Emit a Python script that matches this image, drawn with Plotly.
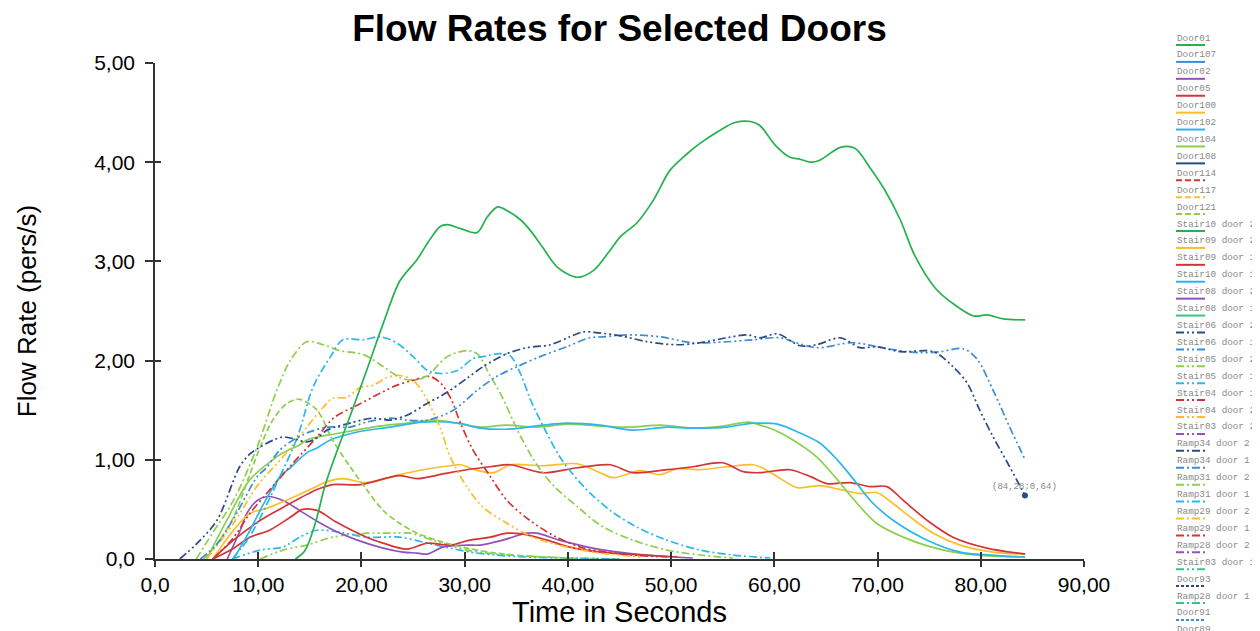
import plotly.graph_objects as go

# ---------------- data ----------------
legend_names = ["Door01", "Door107", "Door02", "Door05", "Door100", "Door102", "Door104", "Door108",
                "Door114", "Door117", "Door121", "Stair10 door 2", "Stair09 door 2", "Stair09 door 1",
                "Stair10 door 1", "Stair08 door 2", "Stair08 door 1", "Stair06 door 2", "Stair06 door 1",
                "Stair05 door 2", "Stair05 door 1", "Stair04 door 1", "Stair04 door 2", "Stair03 door 2",
                "Ramp34 door 2", "Ramp34 door 1", "Ramp31 door 2", "Ramp31 door 1", "Ramp29 door 2",
                "Ramp29 door 1", "Ramp28 door 2", "Stair03 door 1", "Door93", "Ramp28 door 1", "Door91", "Door89"]

GREEN, BLUE, PURPLE, RED, YELLOW = "#25b24e", "#3a8dd6", "#9450be", "#d33535", "#fdbd2a"
CYAN, LGREEN, NAVY, MINT = "#2ab8ec", "#8ccf4d", "#2c4a86", "#3cc47c"
legend_colors = [GREEN, BLUE, PURPLE, RED, YELLOW, CYAN, LGREEN, NAVY,
                 RED, YELLOW, LGREEN, GREEN, YELLOW, RED,
                 CYAN, PURPLE, MINT, NAVY, BLUE,
                 LGREEN, CYAN, RED, YELLOW, PURPLE,
                 NAVY, BLUE, LGREEN, CYAN, YELLOW,
                 RED, PURPLE, MINT, NAVY, MINT, BLUE, PURPLE]
SOLID = "solid"
DASH = "6px,3px"
DASHDOT = "8px,3px,2px,3px"
DDOT = "8px,3px,2px,3px,2px,3px"
DOT = "3px,2px"
legend_dashes = [SOLID] * 8 + [DASH] * 3 + [SOLID] * 6 + [DDOT] * 7 + [DASHDOT] * 7 + [DDOT, DOT, DASHDOT, DOT, DOT]

x_tickvals = [0, 10, 20, 30, 40, 50, 60, 70, 80, 90]
x_ticktext = ["0,0", "10,00", "20,00", "30,00", "40,00", "50,00", "60,00", "70,00", "80,00", "90,00"]
y_tickvals = [0, 1, 2, 3, 4, 5]
y_ticktext = ["0,0", "1,00", "2,00", "3,00", "4,00", "5,00"]

door01_x = [13.6, 14.5, 15.5, 16.5, 17.5, 19, 20.5, 22.2, 23.7, 25.4, 26.5, 27.6, 28.3, 29.6, 31.2, 32.2, 33.2,
            34.3, 35.4, 36.3, 37.5, 39, 40.9, 42.5, 44, 45.1, 46.7, 48.3, 49.9, 51.5, 52.8, 54.7, 56.2, 57.7,
            58.6, 60.1, 61.5, 62.5, 63.5, 64.4, 66.4, 67.8, 69.3, 70.7, 72.2, 73.6, 75.6, 77.5, 79.3, 80.6,
            82.2, 84.3]
door01_y = [0, 0.08, 0.35, 0.75, 1.05, 1.47, 1.9, 2.4, 2.8, 3.02, 3.2, 3.35, 3.37, 3.33, 3.29, 3.45, 3.55,
            3.5, 3.42, 3.32, 3.15, 2.94, 2.84, 2.91, 3.1, 3.25, 3.39, 3.62, 3.92, 4.08, 4.19, 4.32, 4.40, 4.41,
            4.37, 4.17, 4.05, 4.03, 4.0, 4.02, 4.15, 4.14, 3.94, 3.72, 3.42, 3.06, 2.73, 2.56, 2.45, 2.46,
            2.42, 2.41]

stair06d2_x = [2.4, 4, 6, 8.2, 9.2, 10.2, 11.5, 12.4, 13.5, 14.7, 15.7, 16.7, 18.9, 21.1, 22.8, 24.4, 26.4,
               28.3, 30.2, 31.8, 34.1, 36, 38.3, 40.2, 41.5, 42.9, 45.1, 47.7, 50.6, 52.8, 55.4, 57.4, 58.6,
               60.3, 62.5, 64.1, 66.4, 68.3, 69.9, 72.2, 75.4, 77.3, 78.7, 79.9, 81.2, 82.8, 84.28]
stair06d2_y = [0, 0.15, 0.39, 0.93, 1.06, 1.13, 1.2, 1.23, 1.21, 1.18, 1.22, 1.3, 1.37, 1.42, 1.4, 1.45, 1.57,
               1.68, 1.82, 1.94, 2.07, 2.13, 2.16, 2.24, 2.29, 2.28, 2.25, 2.19, 2.16, 2.18, 2.23, 2.26, 2.23,
               2.27, 2.15, 2.16, 2.23, 2.13, 2.14, 2.09, 2.09, 1.94, 1.77, 1.5, 1.23, 0.93, 0.64]

stair06d1_x = [4.4, 6, 7.9, 9.9, 10.8, 12.1, 13.4, 14.7, 16.7, 18.9, 20.5, 22.8, 24.4, 26.4, 28.9, 31.2, 33.1,
               35.1, 37.3, 39.9, 42.1, 43.5, 45.7, 48.9, 52.1, 55.4, 57.9, 60.6, 61.8, 64.1, 67.6, 70.9, 74.1,
               76.1, 78.3, 79.6, 81.2, 82.8, 84.3]
stair06d1_y = [0, 0.15, 0.46, 0.83, 0.92, 1.1, 1.2, 1.27, 1.33, 1.33, 1.38, 1.42, 1.4, 1.4, 1.5, 1.7, 1.84,
               1.94, 2.04, 2.14, 2.23, 2.24, 2.26, 2.24, 2.18, 2.19, 2.21, 2.23, 2.19, 2.13, 2.18, 2.12, 2.08,
               2.09, 2.12, 2.02, 1.7, 1.33, 1.0]

door102_x = [7.6, 9, 10.5, 12.1, 13.1, 14.7, 15.7, 17, 19.6, 22.8, 26, 29.3, 31.5, 34.4, 37.6, 39.9, 43.1,
             46.3, 49.6, 52.1, 55.4, 57.9, 58.6, 60.3, 62.5, 64.4, 66.1, 67.7, 69.3, 71.5, 74.8, 78, 81, 84.3]
door102_y = [0, 0.25, 0.55, 0.83, 0.92, 1.07, 1.12, 1.2, 1.28, 1.33, 1.38, 1.37, 1.32, 1.31, 1.35, 1.37, 1.35,
             1.3, 1.33, 1.32, 1.33, 1.37, 1.37, 1.36, 1.27, 1.17, 1.0, 0.8, 0.59, 0.39, 0.19, 0.07, 0.04, 0.02]

door104_x = [5, 7, 9.2, 11.4, 12.4, 14, 14.7, 17.9, 21.1, 24.4, 26.9, 29.3, 31.5, 34, 37, 40, 43, 46, 49, 52,
             55, 57.5, 58.6, 60, 61.8, 64.1, 66.1, 67.7, 69.9, 73.2, 76.4, 79.6, 84.3]
door104_y = [0, 0.4, 0.8, 1.0, 1.07, 1.15, 1.2, 1.27, 1.33, 1.37, 1.4, 1.37, 1.33, 1.35, 1.33, 1.36, 1.34, 1.33,
             1.35, 1.32, 1.34, 1.38, 1.35, 1.3, 1.2, 1.03, 0.8, 0.6, 0.36, 0.19, 0.09, 0.04, 0.02]

door100_x = [5.6, 7.6, 9.2, 10.8, 13.1, 15, 16.7, 18.2, 20.5, 23.7, 26, 28.6, 29.6, 31, 32.8, 34.4, 37.6, 40.9,
             43.1, 44.4, 47, 48.9, 50.6, 52.8, 55.4, 57.9, 58.6, 60.3, 62.2, 64.4, 66.4, 68.3, 69.9, 71.5, 73.2,
             75.4, 78, 81.2, 84.3]
door100_y = [0, 0.29, 0.46, 0.51, 0.61, 0.7, 0.78, 0.81, 0.77, 0.85, 0.9, 0.94, 0.95, 0.9, 0.87, 0.95, 0.94,
             0.96, 0.87, 0.82, 0.89, 0.85, 0.91, 0.9, 0.93, 0.95, 0.93, 0.83, 0.72, 0.74, 0.7, 0.66, 0.67, 0.56,
             0.42, 0.26, 0.14, 0.07, 0.05]

door05_x = [5.6, 7.6, 10.2, 12.4, 15.7, 17.2, 19.9, 23.7, 25.4, 28, 30.2, 32.5, 34.4, 37.6, 40.9, 44.1, 46.3,
            49.6, 52.1, 55, 57, 58.6, 61.5, 63.5, 65.1, 67.3, 69.3, 70.9, 72.5, 74.8, 77.3, 80.6, 84.3]
door05_y = [0, 0.19, 0.39, 0.52, 0.7, 0.75, 0.75, 0.84, 0.81, 0.86, 0.9, 0.93, 0.95, 0.87, 0.92, 0.95, 0.87,
            0.9, 0.93, 0.97, 0.88, 0.87, 0.9, 0.83, 0.76, 0.77, 0.73, 0.73, 0.59, 0.39, 0.22, 0.11, 0.05]

stair09d1_x = [5.6, 7.5, 9.2, 11.1, 13.1, 14.3, 15.7, 17.6, 20.5, 22.1, 24.4, 26.4, 28.6, 30.5, 32.5, 34.1,
               35.7, 38, 40.2, 43.1, 47.3, 50.6]
stair09d1_y = [0, 0.1, 0.22, 0.29, 0.42, 0.5, 0.49, 0.37, 0.22, 0.16, 0.1, 0.16, 0.14, 0.19, 0.22, 0.26,
               0.25, 0.19, 0.12, 0.07, 0.04, 0.02]

door02_x = [7.0, 8.3, 8.9, 9.9, 10.9, 12.4, 14, 15.7, 17.3, 19.6, 22.1, 24, 25.4, 26.4, 27.9, 30.2, 31.5, 33.7,
            36, 37, 39.2, 42.4, 45.7, 48.9, 52.1]
door02_y = [0, 0.3, 0.46, 0.59, 0.63, 0.59, 0.49, 0.38, 0.29, 0.19, 0.11, 0.07, 0.06, 0.05, 0.12, 0.14, 0.14,
            0.19, 0.26, 0.26, 0.19, 0.11, 0.06, 0.03, 0.01]

ramp31d2_x = [4, 5.5, 7.6, 9.9, 11.8, 13.1, 14.7, 16.3, 17.9, 20.2, 22.1, 23.7, 25, 26.4, 28.3, 30.2, 31.2,
              32.5, 33.4, 35.5, 37, 38.7, 41, 43.3, 46.3, 49.6, 52.8, 56]
ramp31d2_y = [0, 0.25, 0.59, 1.13, 1.7, 2.0, 2.19, 2.16, 2.1, 2.06, 1.94, 1.83, 1.8, 1.85, 2.04, 2.1, 2.07,
              1.84, 1.68, 1.22, 0.95, 0.73, 0.52, 0.33, 0.19, 0.09, 0.04, 0.01]

ramp31d1_x = [7.5, 9, 10.2, 12.1, 13.8, 15.3, 17, 18.2, 20.2, 21.8, 23.4, 25, 26.4, 27.6, 29.3, 30.8, 31.8,
              33.4, 34.4, 35.4, 36.4, 37.9, 39.4, 41.1, 42.1, 44.1, 46.7, 49.6, 52.8, 56, 59.6]
ramp31d1_y = [0, 0.2, 0.42, 0.83, 1.23, 1.73, 2.04, 2.21, 2.21, 2.24, 2.18, 2.04, 1.9, 1.87, 1.9, 2.02, 2.04,
              2.07, 2.05, 1.87, 1.6, 1.28, 1.0, 0.78, 0.67, 0.49, 0.32, 0.19, 0.09, 0.04, 0.01]

stair04d2_x = [5, 7.6, 10, 12.4, 14.7, 16.3, 17.2, 18.6, 19.9, 21.1, 22.5, 23.7, 25, 26, 27.6, 28.6, 30.2,
               31.8, 34.1, 36.6, 39.9, 43.1, 47]
stair04d2_y = [0, 0.36, 0.75, 1.03, 1.33, 1.53, 1.62, 1.63, 1.73, 1.75, 1.83, 1.85, 1.8, 1.67, 1.33, 1.03,
               0.73, 0.52, 0.36, 0.22, 0.12, 0.06, 0.02]

stair04d1_x = [5.6, 7.5, 9.2, 11.4, 13.4, 15.7, 17.4, 19.6, 21.8, 23.4, 25, 26.6, 27.6, 28.6, 29.6, 30.8, 32.5,
               34.1, 36.3, 38.9, 41.2, 43.1, 46.3, 49.6]
stair04d1_y = [0, 0.2, 0.46, 0.73, 0.97, 1.23, 1.43, 1.55, 1.67, 1.75, 1.8, 1.84, 1.78, 1.63, 1.37, 1.1, 0.83,
               0.59, 0.39, 0.22, 0.12, 0.08, 0.04, 0.02]

door121_x = [4.7, 6, 7.6, 9, 10.2, 11.4, 12.8, 14, 15.7, 17.2, 18.9, 20.5, 22.1, 23.7, 25.4, 27.9, 30.2, 33,
             36, 40]
door121_y = [0, 0.15, 0.42, 0.8, 1.13, 1.4, 1.57, 1.61, 1.5, 1.2, 0.93, 0.7, 0.49, 0.36, 0.26, 0.17, 0.11,
             0.06, 0.03, 0.01]

stair05d1_x = [7.5, 10.2, 12.4, 14, 15.7, 17.9, 20.5, 23.7, 26.4, 28.6, 30.5, 33, 36, 40, 45]
stair05d1_y = [0, 0.09, 0.12, 0.22, 0.29, 0.27, 0.22, 0.22, 0.16, 0.11, 0.07, 0.04, 0.02, 0.01, 0]

stair05d2_x = [10.2, 12.4, 14.7, 17.2, 20.5, 22.8, 24.7, 26.9, 30.2, 33, 36, 40, 45]
stair05d2_y = [0, 0.09, 0.14, 0.22, 0.26, 0.26, 0.26, 0.19, 0.09, 0.05, 0.03, 0.01, 0]

series = [
    ("Stair05 door 2", stair05d2_x, stair05d2_y),
    ("Stair05 door 1", stair05d1_x, stair05d1_y),
    ("Door02", door02_x, door02_y),
    ("Stair09 door 1", stair09d1_x, stair09d1_y),
    ("Door100", door100_x, door100_y),
    ("Door05", door05_x, door05_y),
    ("Door104", door104_x, door104_y),
    ("Door102", door102_x, door102_y),
    ("Door121", door121_x, door121_y),
    ("Stair04 door 2", stair04d2_x, stair04d2_y),
    ("Stair04 door 1", stair04d1_x, stair04d1_y),
    ("Ramp31 door 2", ramp31d2_x, ramp31d2_y),
    ("Ramp31 door 1", ramp31d1_x, ramp31d1_y),
    ("Stair06 door 1", stair06d1_x, stair06d1_y),
    ("Stair06 door 2", stair06d2_x, stair06d2_y),
    ("Door01", door01_x, door01_y),
]

marked_point_x = [84.28]
marked_point_y = [0.64]
marked_point_label = "(84,28;0,64)"

# ---------------- figure ----------------
FONT = "Arial, 'Liberation Sans', sans-serif"
MONO = "'Liberation Mono', 'Courier New', monospace"
AXC = "#333333"
OFF = 8  # page body margin offset

fig = go.Figure()
for name, xs, ys in series:
    i = legend_names.index(name)
    fig.add_trace(go.Scatter(
        x=xs, y=ys, mode="lines", name=name, showlegend=False,
        line=dict(color=legend_colors[i], dash=legend_dashes[i], width=1.7, shape="spline", smoothing=0.9),
        hoverinfo="skip"))

fig.add_trace(go.Scatter(x=marked_point_x, y=marked_point_y, mode="markers", showlegend=False,
                         marker=dict(color=NAVY, size=6), hoverinfo="skip"))
# dummy trace so overlay axes are drawn
fig.add_trace(go.Scatter(x=[None], y=[None], xaxis="x2", yaxis="y2", showlegend=False, hoverinfo="skip"))

W, H = 1260, 631
L, T = 155 - OFF, 63 - OFF
pw, ph = 1084 - 155, 559 - 63
R, B = W - L - pw, H - T - ph

fig.add_annotation(x=marked_point_x[0], y=marked_point_y[0], text=marked_point_label, showarrow=False,
                   yshift=9, font=dict(family=MONO, size=9, color="#888888"))


def px_to_paper_x(sx):
    return (sx - OFF - L) / pw


def px_to_paper_y(sy):
    return (T + ph - (sy - OFF)) / ph


# custom legend (text with sample line underneath)
for i, (nm, col, dsh) in enumerate(zip(legend_names, legend_colors, legend_dashes)):
    sy_text = 38 + i * 16.91
    sy_line = sy_text + 7
    fig.add_annotation(xref="paper", yref="paper", x=px_to_paper_x(1175), y=px_to_paper_y(sy_text), text=nm,
                       showarrow=False, xanchor="left", yanchor="middle",
                       font=dict(family=MONO, size=9.3, color="#8a8a8a"))
    fig.add_shape(type="line", xref="paper", yref="paper", x0=px_to_paper_x(1176), x1=px_to_paper_x(1205),
                  y0=px_to_paper_y(sy_line), y1=px_to_paper_y(sy_line),
                  line=dict(color=col, width=2, dash=dsh))

fig.update_layout(
    width=W, height=H, margin=dict(l=L, r=R, t=T, b=B),
    paper_bgcolor="white", plot_bgcolor="white",
    title=dict(text="<b>Flow Rates for Selected Doors</b>", x=0.5, xref="paper", xanchor="center",
               y=(H - (28 - OFF)) / H, yanchor="middle", font=dict(family=FONT, size=37, color="black")),
    xaxis=dict(range=[0, 90], tickvals=x_tickvals, ticktext=x_ticktext, ticks="outside", ticklen=6,
               tickwidth=1.5, tickcolor=AXC, showline=True, linecolor=AXC, linewidth=1.5, showgrid=False,
               zeroline=False, tickfont=dict(family=FONT, size=21, color="black"),
               title=dict(text="Time in Seconds", font=dict(family=FONT, size=29, color="black"), standoff=4)),
    yaxis=dict(range=[0, 5], tickvals=y_tickvals, ticktext=y_ticktext, ticks="outside", ticklen=8,
               tickwidth=1.5, tickcolor=AXC, showline=True, linecolor=AXC, linewidth=1.5, showgrid=False,
               zeroline=False, tickfont=dict(family=FONT, size=21, color="black"), ticklabelstandoff=6,
               title=dict(text="Flow Rate (pers/s)", font=dict(family=FONT, size=26, color="black"), standoff=50)),
    xaxis2=dict(range=[0, 90], overlaying="x", anchor="y2", side="bottom", tickvals=x_tickvals, ticks="inside",
                ticklen=7, tickwidth=1.5, tickcolor=AXC, showticklabels=False, showline=False, showgrid=False,
                zeroline=False),
    yaxis2=dict(range=[0, 5], overlaying="y", anchor="x2", side="left", tickvals=y_tickvals, ticks="inside",
                ticklen=6, tickwidth=1.5, tickcolor=AXC, showticklabels=False, showline=False, showgrid=False,
                zeroline=False),
)

fig.write_html("out.html")
